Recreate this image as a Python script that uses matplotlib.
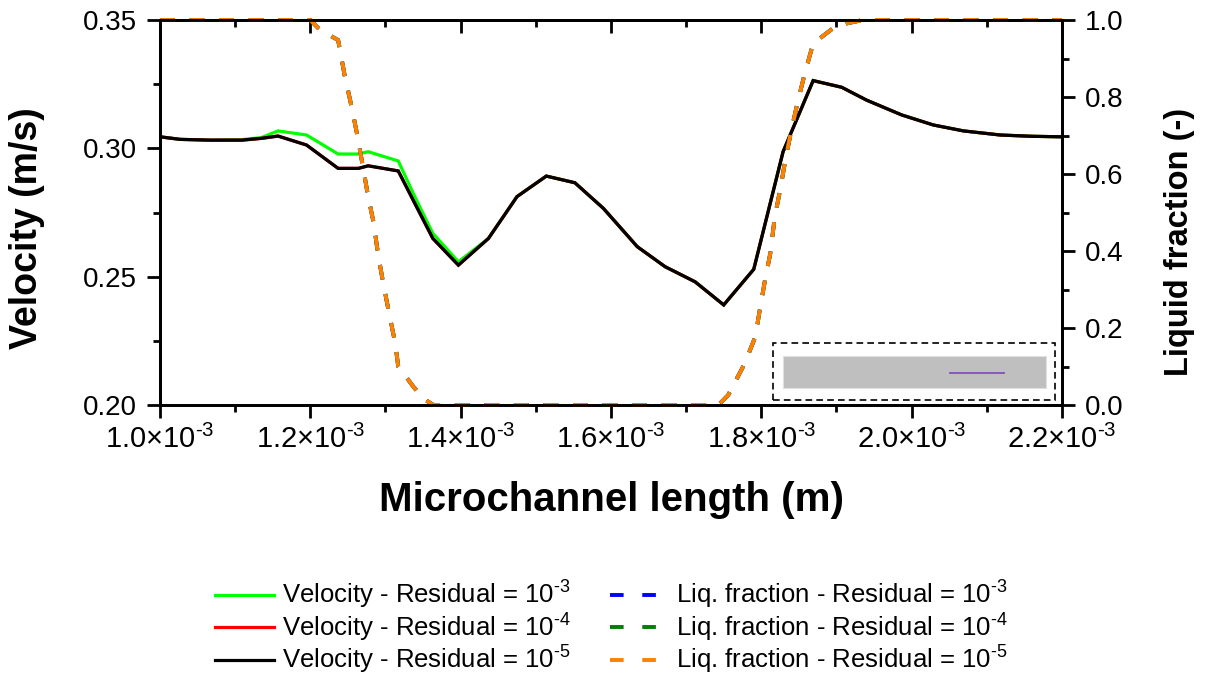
import matplotlib
matplotlib.use("Agg")
import matplotlib.pyplot as plt
from matplotlib.ticker import MultipleLocator, FuncFormatter, FormatStrFormatter
from matplotlib.patches import Rectangle

plt.rcParams["font.family"] = ["Liberation Sans", "DejaVu Sans"]
plt.rcParams["mathtext.fontset"] = "custom"
plt.rcParams["mathtext.rm"] = "Liberation Sans"
plt.rcParams["mathtext.it"] = "Liberation Sans:italic"
plt.rcParams["mathtext.bf"] = "Liberation Sans:bold"

# ---- data -------------------------------------------------------------
# position along the microchannel (m)
x_vel = [1.000e-3, 1.027e-3, 1.067e-3, 1.109e-3, 1.135e-3, 1.157e-3, 1.195e-3,
         1.237e-3, 1.264e-3, 1.277e-3, 1.317e-3, 1.339e-3, 1.363e-3, 1.397e-3,
         1.437e-3, 1.475e-3, 1.514e-3, 1.552e-3, 1.590e-3, 1.635e-3, 1.672e-3,
         1.712e-3, 1.750e-3, 1.790e-3, 1.829e-3, 1.869e-3, 1.907e-3, 1.940e-3,
         1.987e-3, 2.029e-3, 2.069e-3, 2.118e-3, 2.160e-3, 2.200e-3]

vel_res3 = [0.3045, 0.3035, 0.3032, 0.3034, 0.3042, 0.3068, 0.3052,
            0.2978, 0.2978, 0.2987, 0.2951, 0.2812, 0.2669, 0.2558,
            0.2649, 0.2812, 0.2892, 0.2866, 0.2766, 0.2617, 0.2539,
            0.2480, 0.2390, 0.2529, 0.2987, 0.3264, 0.3238, 0.3188,
            0.3130, 0.3091, 0.3068, 0.3052, 0.3047, 0.3045]

vel_res4 = [0.3045, 0.3035, 0.3032, 0.3032, 0.3039, 0.3048, 0.3013,
            0.2922, 0.2922, 0.2932, 0.2912, 0.2786, 0.2649, 0.2545,
            0.2649, 0.2812, 0.2892, 0.2866, 0.2766, 0.2617, 0.2539,
            0.2480, 0.2390, 0.2529, 0.2987, 0.3264, 0.3238, 0.3188,
            0.3130, 0.3091, 0.3068, 0.3052, 0.3047, 0.3045]

vel_res5 = [0.3045, 0.3035, 0.3032, 0.3032, 0.3039, 0.3048, 0.3013,
            0.2922, 0.2922, 0.2932, 0.2912, 0.2786, 0.2649, 0.2545,
            0.2649, 0.2812, 0.2892, 0.2866, 0.2766, 0.2617, 0.2539,
            0.2480, 0.2390, 0.2529, 0.2987, 0.3264, 0.3238, 0.3188,
            0.3130, 0.3091, 0.3068, 0.3052, 0.3047, 0.3045]

x_liq = [1.000e-3, 1.200e-3, 1.213e-3, 1.237e-3, 1.246e-3, 1.253e-3, 1.262e-3,
         1.270e-3, 1.277e-3, 1.284e-3, 1.290e-3, 1.297e-3, 1.304e-3, 1.313e-3,
         1.317e-3, 1.337e-3, 1.350e-3, 1.364e-3, 1.743e-3, 1.756e-3, 1.778e-3,
         1.792e-3, 1.798e-3, 1.805e-3, 1.812e-3, 1.818e-3, 1.825e-3, 1.832e-3,
         1.840e-3, 1.849e-3, 1.858e-3, 1.869e-3, 1.895e-3, 1.913e-3, 1.935e-3,
         2.200e-3]

liq_res3 = [1.0, 1.0, 0.974, 0.948, 0.853, 0.792, 0.706, 0.619, 0.541, 0.476,
            0.394, 0.316, 0.247, 0.160, 0.100, 0.048, 0.017, 0.0, 0.0, 0.026,
            0.108, 0.177, 0.247, 0.325, 0.394, 0.489, 0.558, 0.636, 0.714,
            0.792, 0.862, 0.939, 0.978, 0.991, 1.0, 1.0]
liq_res4 = list(liq_res3)
liq_res5 = list(liq_res3)

vel_labels = ["Velocity - Residual = 10$^{\\text{-3}}$",
              "Velocity - Residual = 10$^{\\text{-4}}$",
              "Velocity - Residual = 10$^{\\text{-5}}$"]
liq_labels = ["Liq. fraction - Residual = 10$^{\\text{-3}}$",
              "Liq. fraction - Residual = 10$^{\\text{-4}}$",
              "Liq. fraction - Residual = 10$^{\\text{-5}}$"]

# ---- figure -----------------------------------------------------------
fig = plt.figure(figsize=(12.24, 6.79), dpi=100)
ax = fig.add_axes([0.1307, 0.4035, 0.7369, 0.567])
ax2 = ax.twinx()

vel_handles = []
for y, c, lab in zip([vel_res3, vel_res4, vel_res5],
                     ["#00ff00", "#ff0000", "#000000"], vel_labels):
    h, = ax.plot(x_vel, y, color=c, lw=2.3, label=lab, solid_joinstyle="miter")
    vel_handles.append(h)

liq_handles = []
for y, c, lab in zip([liq_res3, liq_res4, liq_res5],
                     ["#0000ff", "#008000", "#ff8000"], liq_labels):
    h, = ax2.plot(x_liq, y, color=c, lw=2.8, ls=(0, (3.8, 3.8)),
                  dash_capstyle="butt", label=lab, clip_on=False)
    liq_handles.append(h)

ax.set_xlim(1.0e-3, 2.2e-3)
ax.set_ylim(0.20, 0.35)
ax2.set_ylim(0.0, 1.0)

ax.xaxis.set_major_locator(MultipleLocator(0.2e-3))
ax.xaxis.set_minor_locator(MultipleLocator(0.1e-3))
ax.xaxis.set_major_formatter(
    FuncFormatter(lambda v, p: f"{v * 1e3:.1f}×10$^{{\\text{{-3}}}}$"))
ax.yaxis.set_major_locator(MultipleLocator(0.05))
ax.yaxis.set_minor_locator(MultipleLocator(0.025))
ax.yaxis.set_major_formatter(FormatStrFormatter("%.2f"))
ax2.yaxis.set_major_locator(MultipleLocator(0.2))
ax2.yaxis.set_minor_locator(MultipleLocator(0.1))
ax2.yaxis.set_major_formatter(FormatStrFormatter("%.1f"))

for a in (ax, ax2):
    for s in a.spines.values():
        s.set_linewidth(2.0)

ax.tick_params(axis="both", which="major", direction="out", length=9.5,
               width=2.0, labelsize=20, pad=7)
ax.tick_params(axis="both", which="minor", direction="out", length=5,
               width=2.0)
ax.tick_params(axis="x", which="major", labelsize=21, pad=5)
ax.tick_params(axis="x", which="both", top=False)
ax2.tick_params(axis="y", which="major", direction="out", length=9.5,
                width=2.0, labelsize=20, pad=7)
ax2.tick_params(axis="y", which="minor", direction="out", length=5, width=2.0)
ax2.tick_params(axis="x", which="both", bottom=False, top=False,
                labelbottom=False)

# inward ticks on the top edge
top = ax.secondary_xaxis("top")
top.xaxis.set_major_locator(MultipleLocator(0.2e-3))
top.xaxis.set_minor_locator(MultipleLocator(0.1e-3))
top.tick_params(which="major", direction="in", length=9.5, width=2.0,
                labeltop=False)
top.tick_params(which="minor", direction="in", length=5, width=2.0)
top.spines["top"].set_linewidth(2.0)

ax.set_xlabel("Microchannel length (m)", fontsize=29, fontweight="bold")
ax.xaxis.label.set_va("center")
ax.xaxis.set_label_coords(0.501, -0.247)
ax.set_ylabel("Velocity (m/s)", fontsize=27, fontweight="bold")
ax.yaxis.label.set_va("center")
ax.yaxis.set_label_coords(-0.147, 0.46)
ax2.set_ylabel("Liquid fraction (-)", fontsize=23.5, fontweight="bold")
ax2.yaxis.label.set_va("center")
ax2.yaxis.set_label_coords(1.13, 0.423)

# small channel sketch in the lower-right corner
ax2.add_patch(Rectangle((0.6796, 0.013), 0.3126, 0.148, transform=ax2.transAxes,
                        fill=False, ec="black", lw=1.2, ls=(0, (4, 2.5)),
                        zorder=5))
ax2.add_patch(Rectangle((0.6907, 0.0442), 0.2916, 0.0831,
                        transform=ax2.transAxes, fc="#bfbfbf", ec="#e0e0e0",
                        lw=0.8, zorder=5))
ax2.plot([0.8758, 0.9357], [0.0831, 0.0831], transform=ax2.transAxes,
         color="#7f4fbf", lw=1.3, zorder=6)

leg = fig.legend(vel_handles + liq_handles, vel_labels + liq_labels,
                 ncol=2, loc="center", bbox_to_anchor=(0.4996, 0.0758),
                 frameon=False, fontsize=18.5, handlelength=2.26,
                 handletextpad=0.31, columnspacing=1.52, labelspacing=0.02,
                 borderpad=0.1)
for ln in leg.get_lines()[3:]:
    ln.set_dashes((3.5, 4.8))

fig.savefig("out.png", dpi=100)
